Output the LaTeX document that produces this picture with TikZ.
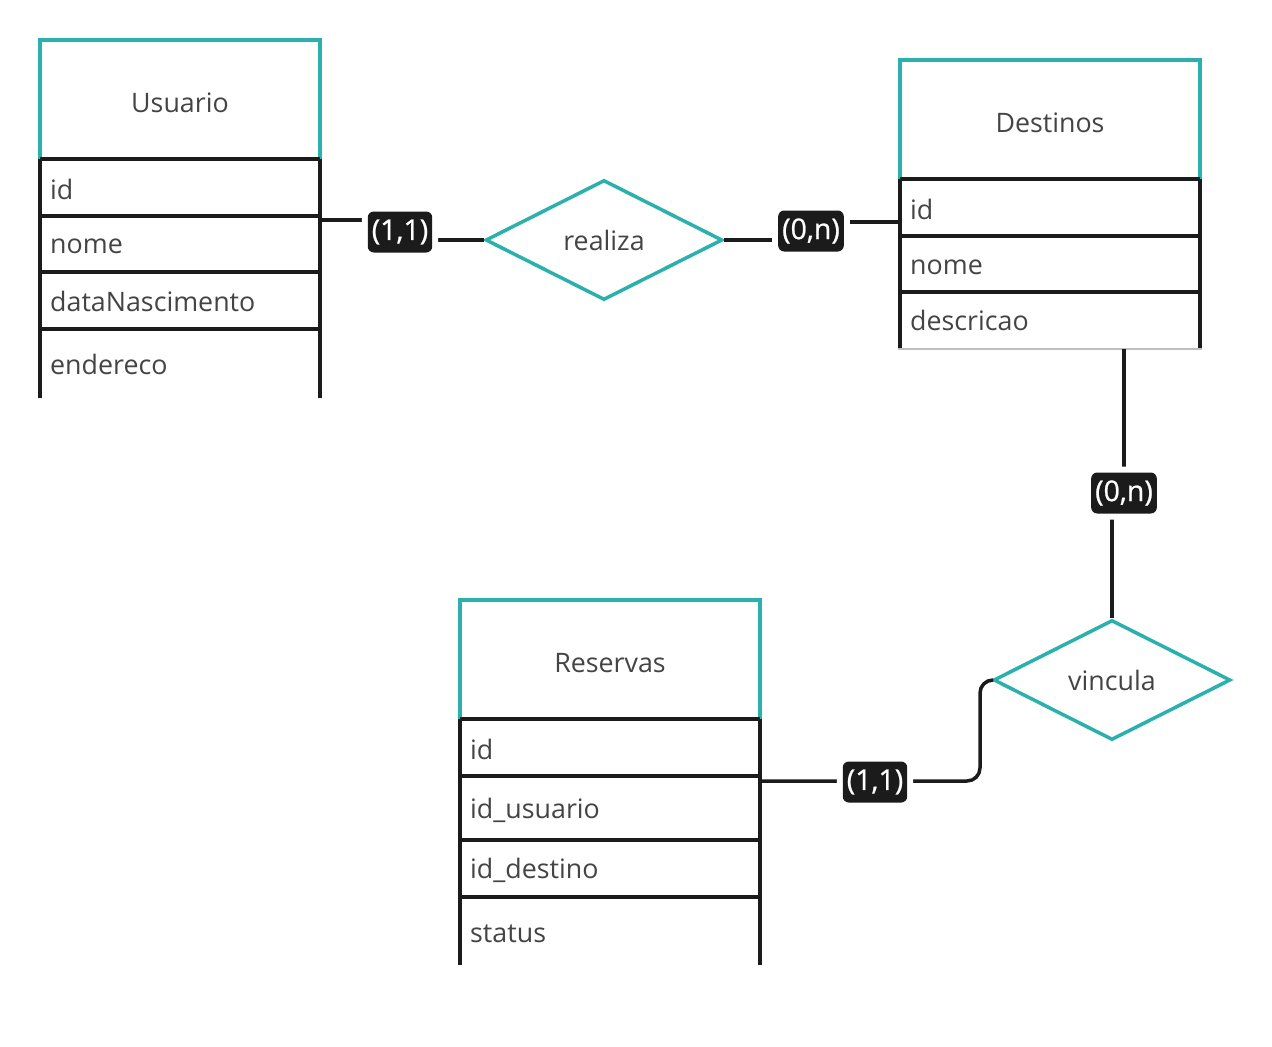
\documentclass[tikz,border=0pt]{standalone}
\usepackage{fontspec}
\setmainfont{Open Sans}
\newfontfamily\cardfont{Open Sans}[FakeBold=0.8]
\usetikzlibrary{shapes.geometric}

\definecolor{erteal}{HTML}{2AB0AD}
\definecolor{ink}{HTML}{1B1B1B}
\definecolor{txt}{HTML}{444444}

\tikzset{
  tealline/.style={draw=erteal, line width=3.5pt},
  rowline/.style={draw=ink, line width=4pt},
  conn/.style={draw=ink, line width=3.5pt},
  title/.style={anchor=mid, text=txt, inner sep=0pt},
  field/.style={anchor=mid west, text=txt, inner sep=0pt},
  relation/.style={diamond, draw=erteal, line width=3.5pt, fill=white,
    minimum width=237pt, minimum height=120pt, inner sep=0pt, text=txt},
  cardbox/.style={fill=ink, text=white, rounded corners=6pt, inner xsep=4pt,
    inner ysep=0pt, minimum height=41pt, font=\cardfont\fontsize{28.5}{33}\selectfont,
    preaction={draw=white, line width=12pt}},
}

\begin{document}
\begin{tikzpicture}[x=1pt, y=-1pt, font=\fontsize{26.8}{32}\selectfont]
\path[use as bounding box, fill=white] (0,0) rectangle (1272,1047);

% ---------- Usuario ----------
\draw[tealline] (40,159) -- (40,40) -- (320,40) -- (320,159);
\draw[rowline] (40,159) -- (40,398) (320,159) -- (320,398);
\foreach \yy in {159,216,272,329} \draw[rowline] (40,\yy) -- (320,\yy);
\node[title] (usuario) at (180,110) {Usuario};
\node[field] (u-id)   at (50,197) {id};
\node[field] (u-nome) at (50,251) {nome};
\node[field] (u-data) at (50,309) {dataNascimento};
\node[field] (u-end)  at (50,372) {endereco};

% ---------- Destinos ----------
\draw[tealline] (900,179) -- (900,60) -- (1200,60) -- (1200,179);
\draw[rowline] (900,179) -- (900,348) (1200,179) -- (1200,348);
\foreach \yy in {179,236,292} \draw[rowline] (900,\yy) -- (1200,\yy);
\draw[draw=black!25, line width=1.2pt] (898,349) -- (1202,349);
\node[title] (destinos) at (1050,130) {Destinos};
\node[field] (d-id)   at (910,217) {id};
\node[field] (d-nome) at (910,272) {nome};
\node[field] (d-desc) at (910,328) {descricao};

% ---------- Reservas ----------
\draw[tealline] (460,719) -- (460,600) -- (760,600) -- (760,719);
\draw[rowline] (460,719) -- (460,965) (760,719) -- (760,965);
\foreach \yy in {719,776,840,897} \draw[rowline] (460,\yy) -- (760,\yy);
\node[title] (reservas) at (610,670) {Reservas};
\node[field] (r-id)   at (470,757) {id};
\node[field] (r-usu)  at (470,816) {id\_usuario};
\node[field] (r-dest) at (470,876) {id\_destino};
\node[field] (r-stat) at (470,940) {status};

% ---------- relationships ----------
\node[relation] (realiza) at (604,240) {\raisebox{-4pt}{realiza}};
\node[relation] (vincula) at (1112,680) {\raisebox{-4pt}{vincula}};

% connector end points on the tables and label positions
\coordinate (u-out) at (320,220);
\coordinate (d-in)  at (900,222);
\coordinate (d-out) at (1124,349);
\coordinate (r-out) at (760,781);
\coordinate (k1) at (400,232);
\coordinate (k2) at (811,231);
\coordinate (k3) at (1124,493);
\coordinate (k4) at (875,782);

\draw[conn] (u-out) -- (400,220) -- (400,240) -- (realiza.west);
\draw[conn] (realiza.east) -- (811,240) -- (811,222) -- (d-in);
\draw[conn] (d-out) -- (1124,493) -- (1112,493) -- (vincula.north);
\draw[conn, rounded corners=13pt] (r-out) -- (980,781) -- (980,680) -- (vincula.west);

% cardinality labels
\node[cardbox] (c1) at (k1) {(1,1)};
\node[cardbox] (c2) at (k2) {(0,n)};
\node[cardbox] (c3) at (k3) {(0,n)};
\node[cardbox] (c4) at (k4) {(1,1)};
\end{tikzpicture}
\end{document}
